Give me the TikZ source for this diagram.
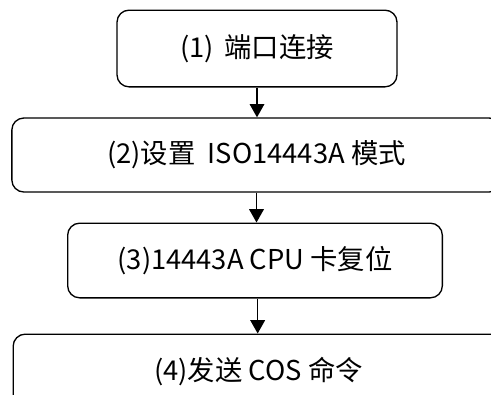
\documentclass[tikz,border=0pt]{standalone}
\usepackage{fontspec}
\setmainfont{Noto Sans CJK SC}
\usetikzlibrary{arrows.meta}

\begin{document}
\begin{tikzpicture}[x=0.75pt, y=-0.75pt, step box/.style={rectangle,
            rounded corners=9pt, draw=black, line width=1pt,
            font=\fontsize{20.5}{24}\selectfont, inner sep=0pt},
        flow/.style={-{Triangle[width=11pt, length=10pt]},
            line width=1pt}]
        \useasboundingbox (0,0) rectangle (491,394);
        \clip (0,0) rectangle (491,394);

        \node[step box, minimum width=210pt, minimum height=57.5pt]
        (port) at (257,48.5) {(1)\,\ 端口连接};

        \node[step box, minimum width=367pt, minimum height=55.5pt]
        (iso) at (256.5,155) {(2)设置\ \ ISO14443A 模式};

        \node[step box, minimum width=281pt, minimum height=56pt]
        (reset) at (255,260.5) {(3)14443A CPU 卡复位};

        \node[step box, minimum width=368pt, minimum height=56pt]
        (cos) at (258.5,371.5) {(4)发送 COS 命令};

        \draw[flow] (port.south) -- (port.south |- iso.north);

        \draw[flow] (iso.south) -- (iso.south |- reset.north);

        \draw[flow] ([xshift=2pt]reset.south) -- ([xshift=2pt]reset.south
        |- cos.north);
    \end{tikzpicture}
\end{document}
